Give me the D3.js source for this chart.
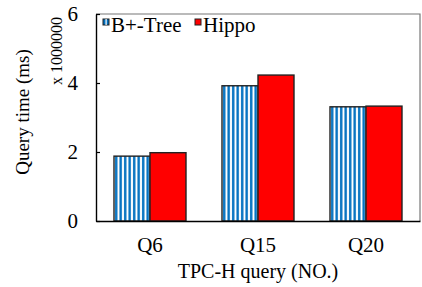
<!DOCTYPE html>
<html>
<head>
<meta charset="utf-8">
<script src="https://cdn.jsdelivr.net/npm/d3@7"></script>
<style>
  body { margin: 0; background: #fff; }
  svg text { font-family: "Liberation Serif", "Times New Roman", serif; fill: #000; }
</style>
</head>
<body>
<svg id="barchart" width="422" height="287"></svg>
<script>
// chart data
var categories = ["Q6", "Q15", "Q20"];
var seriesNames = ["B+-Tree", "Hippo"];
var btreeValues = [1.88, 3.92, 3.31];
var hippoValues = [1.98, 4.23, 3.33];
var yTicks = [0, 2, 4, 6];

(function () {
    var svg = d3.select("#barchart"),
        margin = { top: 14, right: 2, bottom: 66, left: 96 },
        width = svg.attr("width") - margin.left - margin.right,
        height = svg.attr("height") - margin.top - margin.bottom,
        g = svg.append("g").attr("transform", "translate(" + margin.left + "," + margin.top + ")");

    var blue = "#0070c0", red = "#ff0000";
    var serif = "'Liberation Serif', 'Times New Roman', serif";

    // vertical stripes for the B+-Tree bars
    var defs = svg.append("defs");
    var pat = defs.append("pattern")
        .attr("id", "stripes")
        .attr("patternUnits", "userSpaceOnUse")
        .attr("x", 0).attr("y", 0)
        .attr("width", 4.5).attr("height", 10);
    pat.append("rect").attr("width", 4.5).attr("height", 10).attr("fill", "#fff");
    pat.append("rect").attr("x", 1).attr("width", 2.4).attr("height", 10).attr("fill", blue);

    var data = categories.map(function (c, i) {
        return { cat: c, values: [btreeValues[i], hippoValues[i]] };
    });

    var x0 = d3.scaleBand().domain(categories).range([0, width])
        .paddingInner(1 / 3).paddingOuter(1 / 6);
    var x1 = d3.scaleBand().domain(seriesNames).range([0, x0.bandwidth()]);
    var y = d3.scaleLinear().domain([0, 6]).range([height, 0]);

    // frame: top/right grey
    g.append("path")
        .attr("d", "M0,0H" + width + "V" + height)
        .attr("fill", "none").attr("stroke", "#777").attr("stroke-width", 1.2);

    // bars
    var grp = g.selectAll(".grp").data(data).enter().append("g")
        .attr("class", "grp")
        .attr("transform", function (d) { return "translate(" + x0(d.cat) + ",0)"; });

    grp.selectAll("rect")
        .data(function (d) { return d.values.map(function (v, i) { return { key: seriesNames[i], value: v }; }); })
        .enter().append("rect")
        .attr("x", function (d) { return x1(d.key); })
        .attr("y", function (d) { return y(d.value); })
        .attr("width", x1.bandwidth())
        .attr("height", function (d) { return height - y(d.value); })
        .attr("fill", function (d) { return d.key === "Hippo" ? red : "url(#stripes)"; })
        .attr("stroke", "#222").attr("stroke-width", 1.4);

    // y axis
    var yAxis = g.append("g")
        .call(d3.axisLeft(y).tickValues(yTicks).tickFormat(d3.format("d"))
            .tickSizeInner(-4).tickSizeOuter(0).tickPadding(18));
    yAxis.attr("font-family", null).attr("font-size", null);
    yAxis.select(".domain").attr("stroke", "#000").attr("stroke-width", 1.4);
    yAxis.selectAll(".tick line").attr("stroke", "#000").attr("stroke-width", 1.2);
    yAxis.selectAll("text").style("font-size", "21px").style("font-family", serif);

    // x axis
    var xAxis = g.append("g")
        .attr("transform", "translate(0," + height + ")")
        .call(d3.axisBottom(x0).tickSize(0).tickPadding(16));
    xAxis.attr("font-family", null).attr("font-size", null);
    xAxis.select(".domain").attr("stroke", "#000").attr("stroke-width", 1.6);
    xAxis.selectAll("text").style("font-size", "21px").style("font-family", serif);

    // axis titles
    svg.append("text")
        .attr("transform", "translate(29," + 112 + ") rotate(-90)")
        .attr("text-anchor", "middle")
        .style("font-size", "19px")
        .text("Query time (ms)");

    svg.append("text")
        .attr("transform", "translate(62," + 51 + ") rotate(-90)")
        .attr("text-anchor", "middle")
        .style("font-size", "16px")
        .text("x 1000000");

    svg.append("text")
        .attr("x", margin.left + width / 2)
        .attr("y", 278)
        .attr("text-anchor", "middle")
        .style("font-size", "20px")
        .text("TPC-H query (NO.)");

    // legend
    var legendRectSize = 6;
    var legendX = [103, 195];
    var legend = svg.selectAll(".legend").data(seriesNames).enter().append("g")
        .attr("class", "legend")
        .attr("transform", function (d, i) { return "translate(" + legendX[i] + ",19)"; });

    legend.append("rect")
        .attr("width", legendRectSize).attr("height", legendRectSize)
        .attr("fill", function (d) { return d === "Hippo" ? red : blue; })
        .attr("stroke", "#222").attr("stroke-width", 1);
    legend.filter(function (d) { return d !== "Hippo"; }).append("rect")
        .attr("x", 2.5).attr("width", 1.2).attr("height", legendRectSize)
        .attr("fill", "#fff");

    legend.append("text")
        .attr("x", legendRectSize + 2)
        .attr("y", 13)
        .style("font-size", "21px")
        .text(function (d) { return d; });
})();
</script>
</body>
</html>
